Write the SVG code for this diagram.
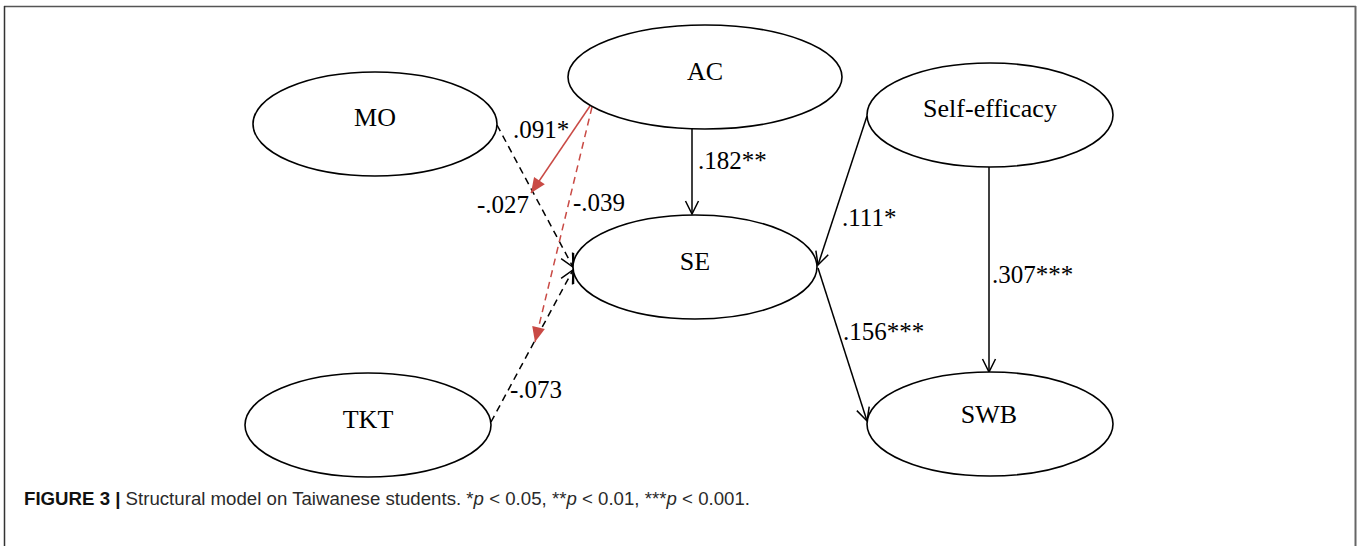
<svg xmlns="http://www.w3.org/2000/svg" width="1357" height="546" viewBox="0 0 1357 546">
<style>
.node ellipse{fill:#fff;stroke:#000;stroke-width:1.6}
.node text{font-family:"Liberation Serif","Times New Roman",serif;font-size:26px;text-anchor:middle;fill:#000}
.lbl{font-family:"Liberation Serif","Times New Roman",serif;font-size:25px;fill:#000}
.e{fill:none;stroke:#000;stroke-width:1.5}
.d{stroke-dasharray:7 5}
.r{fill:none;stroke:#c94a45;stroke-width:1.5}
.cap{font-family:"Liberation Sans Narrow","Liberation Sans",Arial,sans-serif;font-size:17.5px;fill:#2a2a2a}
</style>
<defs>
<marker id="open" markerUnits="userSpaceOnUse" markerWidth="20" markerHeight="20" refX="0" refY="0" orient="auto" viewBox="-15 -10 20 20" overflow="visible">
<path d="M-13,-6.5 L0,0 L-13,6.5" fill="none" stroke="#000" stroke-width="1.5" stroke-dasharray="none"/>
</marker>
<marker id="red" markerUnits="userSpaceOnUse" markerWidth="20" markerHeight="20" refX="0" refY="0" orient="auto" viewBox="-15 -10 20 20" overflow="visible">
<path d="M-15,-6.5 L0,0 L-15,6.5 Z" fill="#c94a45" stroke="none"/>
</marker>
</defs>
<rect width="1357" height="546" fill="#fff"/>
<g id="frame" fill="none">
<line x1="4" y1="6.5" x2="1356" y2="6.5" stroke="#555" stroke-width="1.5"/>
<line x1="4.5" y1="6" x2="4.5" y2="546" stroke="#333" stroke-width="1.5"/>
<line x1="1355.5" y1="6" x2="1355.5" y2="546" stroke="#666" stroke-width="2"/>
</g>
<g id="connectors">
<line class="e d" x1="497" y1="125" x2="573" y2="267" marker-end="url(#open)"/>
<line class="e d" x1="491" y1="422" x2="573" y2="270" marker-end="url(#open)"/>
<line class="e" x1="573.5" y1="253" x2="573.5" y2="284"/>
<line class="r" x1="590" y1="106" x2="531" y2="193" marker-end="url(#red)"/>
<line class="r d" x1="592" y1="107" x2="535" y2="342" marker-end="url(#red)"/>
<line class="e" x1="692" y1="129" x2="692" y2="214" marker-end="url(#open)"/>
<line class="e" x1="867" y1="116" x2="818" y2="265" marker-end="url(#open)"/>
<line class="e" x1="818" y1="268" x2="867" y2="421" marker-end="url(#open)"/>
<line class="e" x1="989" y1="167" x2="989" y2="372" marker-end="url(#open)"/>
<text class="lbl" x="513" y="138">.091*</text>
<text class="lbl" x="477" y="213">-.027</text>
<text class="lbl" x="573" y="211">-.039</text>
<text class="lbl" x="698" y="169">.182**</text>
<text class="lbl" x="510" y="398">-.073</text>
<text class="lbl" x="842" y="226">.111*</text>
<text class="lbl" x="992" y="283">.307***</text>
<text class="lbl" x="843" y="340">.156***</text>
</g>
<g id="MO" class="node"><ellipse cx="375" cy="124" rx="122" ry="52"/><text x="375" y="126">MO</text></g>
<g id="AC" class="node"><ellipse cx="705" cy="77" rx="137" ry="52"/><text x="705" y="80">AC</text></g>
<g id="SE" class="node"><ellipse cx="695" cy="267" rx="122" ry="52"/><text x="695" y="270">SE</text></g>
<g id="SelfEfficacy" class="node"><ellipse cx="990" cy="115" rx="123" ry="52"/><text x="990" y="117">Self-efficacy</text></g>
<g id="SWB" class="node"><ellipse cx="990" cy="424" rx="123" ry="52"/><text x="989" y="423">SWB</text></g>
<g id="TKT" class="node"><ellipse cx="368" cy="425" rx="123" ry="52"/><text x="368" y="428">TKT</text></g>
<text class="cap" x="24" y="505" textLength="726" lengthAdjust="spacingAndGlyphs"><tspan font-weight="bold" fill="#111">FIGURE 3 |</tspan> Structural model on Taiwanese students. *<tspan font-style="italic">p</tspan> &lt; 0.05, **<tspan font-style="italic">p</tspan> &lt; 0.01, ***<tspan font-style="italic">p</tspan> &lt; 0.001.</text>
</svg>
